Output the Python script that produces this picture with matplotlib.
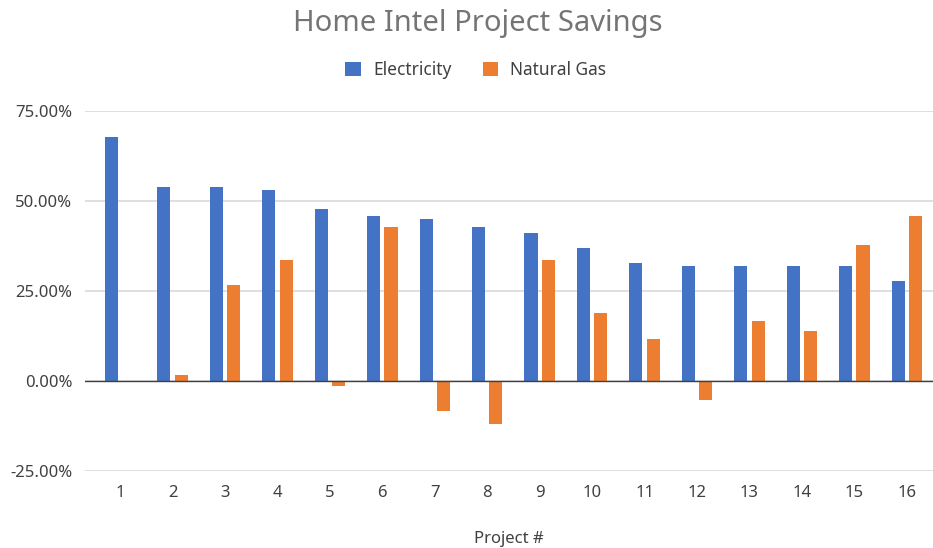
import matplotlib.pyplot as plt
import numpy as np
from matplotlib.ticker import FuncFormatter

plt.rcParams['font.family'] = ['Noto Sans', 'DejaVu Sans']

# data (percent)
projects = [str(i) for i in range(1, 17)]
electricity = [67.6, 53.7, 53.8, 53.0, 47.7, 45.9, 45.0, 42.7, 41.0, 36.8, 32.8, 31.8, 31.8, 31.8, 31.8, 27.7]
natural_gas = [0.0, 1.7, 26.7, 33.7, -1.4, 42.7, -8.3, -12.0, 33.7, 18.8, 11.5, -5.4, 16.5, 13.8, 37.7, 45.9]

blue = '#4472C4'
orange = '#ED7D31'
text_col = '#404040'

fig = plt.figure(figsize=(9.33, 5.48), dpi=100)
ax = fig.add_axes([0.0911, 0.1405, 0.9089, 0.6575])

x = np.arange(1, len(projects) + 1)
w = 0.25
off = 0.165
ax.bar(x - off, electricity, w, color=blue, label='Electricity', zorder=3)
ax.bar(x + off, natural_gas, w, color=orange, label='Natural Gas', zorder=3)

ax.set_xlim(0.33, 16.5)
ax.set_ylim(-25, 75)
ax.set_yticks([-25, 0, 25, 50, 75])
ax.yaxis.set_major_formatter(FuncFormatter(lambda v, p: f'{v:.2f}%'))
ax.set_xticks(x)
ax.set_xticklabels(projects)

ax.grid(axis='y', color='#d9d9d9', linewidth=1.2, zorder=0)
ax.axhline(0, color='#404040', linewidth=1.0, zorder=4)
for s in ax.spines.values():
    s.set_visible(False)
ax.tick_params(length=0, labelsize=12, labelcolor=text_col)
ax.tick_params(axis='x', pad=10)
ax.tick_params(axis='y', pad=9)

ax.set_xlabel('Project #', fontsize=12, color=text_col, labelpad=22)

fig.text(0.512, 0.958, 'Home Intel Project Savings', ha='center', va='center',
         fontsize=21, color='#757575')

leg = fig.legend(loc='center', bbox_to_anchor=(0.51, 0.872), ncol=2, frameon=False,
                 fontsize=12.5, handlelength=0.9, handleheight=0.9, columnspacing=1.8,
                 handletextpad=0.7)
for t in leg.get_texts():
    t.set_color(text_col)

fig.savefig('out.png', dpi=100)
